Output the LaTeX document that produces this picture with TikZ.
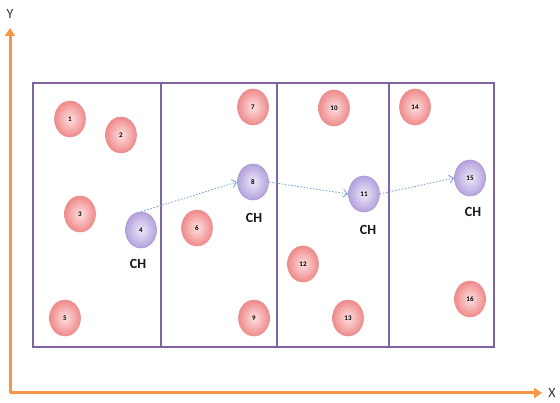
\documentclass[tikz,border=0pt]{standalone}
\usepackage{fontspec}
\setmainfont{Carlito}
\usetikzlibrary{shapes.geometric,arrows.meta}
\definecolor{gridpurple}{HTML}{8064A2}
\definecolor{axisorange}{HTML}{F79646}
\definecolor{pinkin}{HTML}{FCE0E0}
\definecolor{pinkout}{HTML}{F08A8A}
\definecolor{pinkedge}{HTML}{E89090}
\definecolor{violin}{HTML}{EEE8F8}
\definecolor{violout}{HTML}{B4A2DE}
\definecolor{violedge}{HTML}{A898D0}
\definecolor{linkblue}{HTML}{7FA8D8}
\tikzset{
  x=1pt, y=-1pt,
  sensor/.style={ellipse, minimum width=31pt, minimum height=36pt, inner sep=0pt,
    draw=pinkedge, line width=0.6pt, inner color=pinkin, outer color=pinkout,
    font=\fontsize{7}{8}\selectfont\bfseries},
  head/.style={sensor, draw=violedge, inner color=violin, outer color=violout},
  chlabel/.style={font=\fontsize{14}{16}\selectfont\bfseries, text=black!90},
  link/.style={linkblue, line width=0.9pt, dash pattern=on 1.6pt off 1.6pt,
    -{Straight Barb[length=4.5pt,width=8pt]}},
  axis/.style={axisorange, line width=3pt, -{Triangle[length=8pt,width=10pt]}},
  grid/.style={gridpurple, line width=1.4pt},
}
\begin{document}
\begin{tikzpicture}
\useasboundingbox (0,0) rectangle (560,403);
% field and its four zones
\draw[grid] (33,83) rectangle (494,347);
\draw[grid] (161,83) -- (161,347);
\draw[grid] (277,83) -- (277,347);
\draw[grid] (389,83) -- (389,347);
% axes
\coordinate (o) at (10,393);
\coordinate (xend) at (542,393);
\coordinate (yend) at (10,28);
\draw[axis] (o) -- (xend);
\draw[axis] (o) -- (yend);
\node[font=\fontsize{14}{16}\selectfont, text=black!80] (xl) at (552,393) {X};
\node[font=\fontsize{14}{16}\selectfont, text=black!80] (yl) at (10,14) {Y};
% sensor nodes
\node[sensor] (n1) at (70,119) {1};
\node[sensor] (n2) at (121,135) {2};
\node[sensor] (n3) at (80,214) {3};
\node[head]   (n4) at (141,230) {4};
\node[sensor] (n5) at (65,318) {5};
\node[sensor] (n6) at (197,228) {6};
\node[sensor] (n7) at (253,107) {7};
\node[head]   (n8) at (253,182) {8};
\node[sensor] (n9) at (254,318) {9};
\node[sensor] (n10) at (334,108) {10};
\node[head]   (n11) at (364,194) {11};
\node[sensor] (n12) at (303,264) {12};
\node[sensor] (n13) at (348,318) {13};
\node[sensor] (n14) at (415,107) {14};
\node[head]   (n15) at (470,178) {15};
\node[sensor] (n16) at (470,299) {16};
% cluster head labels
\node[chlabel] (c4) at (138,264) {CH};
\node[chlabel] (c8) at (254,218) {CH};
\node[chlabel] (c11) at (368,230) {CH};
\node[chlabel] (c15) at (473,212) {CH};
% route between cluster heads
\draw[link] (n4.north) -- (n8.west);
\draw[link] (n8.east) -- (n11.west);
\draw[link] (n11.east) -- (n15.west);
\end{tikzpicture}
\end{document}
